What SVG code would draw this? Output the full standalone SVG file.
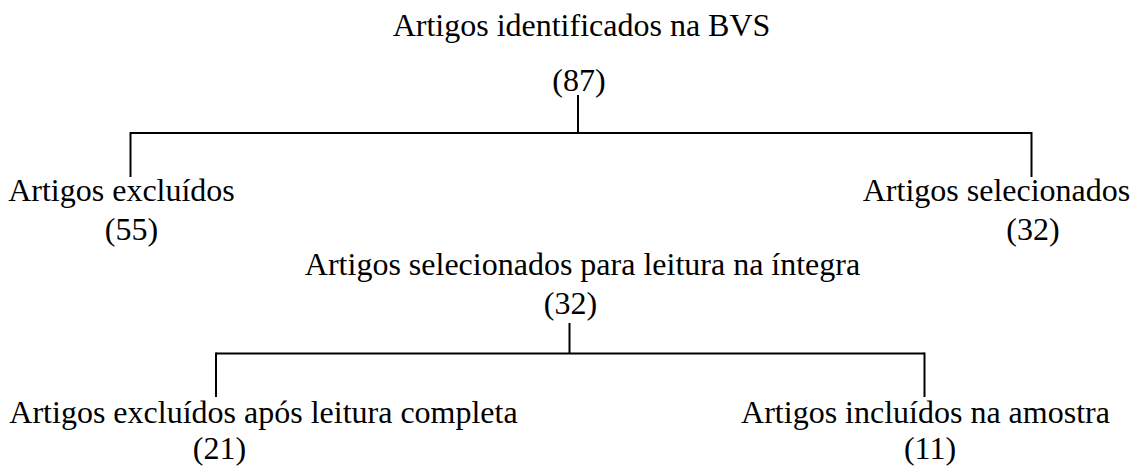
<svg xmlns="http://www.w3.org/2000/svg" width="1142" height="466" viewBox="0 0 1142 466">
<style>
text { font-family: 'Liberation Serif', Tinos, 'Times New Roman', 'DejaVu Serif', serif; font-size: 32px; fill: #000; text-anchor: middle; }
.c line { stroke: #000; stroke-width: 2; fill: none; }
</style>
<rect width="1142" height="466" fill="#fff"/>
<g id="n-root" font-family="Liberation Serif, serif">
<text x="581.5" y="36">Artigos identificados na BVS</text>
<text x="579" y="91">(87)</text>
</g>
<g id="n-excluidos">
<text x="121.5" y="201">Artigos excluídos</text>
<text x="131.5" y="240">(55)</text>
</g>
<g id="n-selecionados">
<text x="996.5" y="201">Artigos selecionados</text>
<text x="1033" y="240">(32)</text>
</g>
<g id="n-leitura">
<text x="582.5" y="275">Artigos selecionados para leitura na íntegra</text>
<text x="570.5" y="314">(32)</text>
</g>
<g id="n-excluidos2">
<text x="263.5" y="423">Artigos excluídos após leitura completa</text>
<text x="219.5" y="459">(21)</text>
</g>
<g id="n-incluidos">
<text x="925.5" y="423">Artigos incluídos na amostra</text>
<text x="930" y="459">(11)</text>
</g>
<g id="connectors" class="c">
<line x1="578" y1="95" x2="578" y2="133"/>
<line x1="130.5" y1="133" x2="1031.5" y2="133"/>
<line x1="130.5" y1="132" x2="130.5" y2="177"/>
<line x1="1031.5" y1="132" x2="1031.5" y2="177"/>
<line x1="569.5" y1="323" x2="569.5" y2="353.5"/>
<line x1="216" y1="353.5" x2="924.5" y2="353.5"/>
<line x1="216" y1="352.5" x2="216" y2="397"/>
<line x1="924.5" y1="352.5" x2="924.5" y2="397"/>
</g>
</svg>
